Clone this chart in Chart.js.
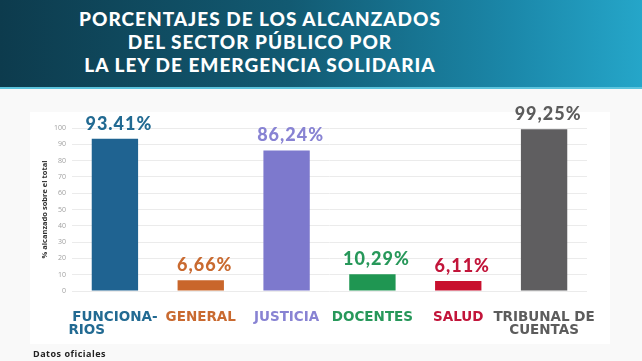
<!DOCTYPE html>
<html>
<head>
<meta charset="utf-8">
<script src="https://cdn.jsdelivr.net/npm/chart.js@4/dist/chart.umd.min.js"></script>
<style>
  html, body { margin: 0; padding: 0; }
  body { width: 642px; height: 361px; position: relative; overflow: hidden; background: #f9f9f9; font-family: Lato, "Open Sans", sans-serif; }
  .header {
    position: absolute; left: 0; top: 0; width: 642px; height: 87px;
    background: linear-gradient(90deg, #0d3b4d 0%, #125a72 45%, #1b88aa 80%, #25a6c9 100%);
    border-bottom: 2px solid #5cc4dd;
  }
  .header h1 {
    margin: 0; padding-top: 7px; width: 520px; text-align: center;
    color: #fff; font-family: Lato, sans-serif; font-weight: 900; font-size: 19px;
    line-height: 23px; letter-spacing: 1px;
  }
  .panel { position: absolute; left: 30px; top: 112px; width: 580px; height: 232px; background: #fff; }
  .wrap { position: absolute; left: 0; top: 88px; width: 642px; height: 273px; }
  .source { position: absolute; left: 33px; top: 347px; font: bold 9px "Open Sans", sans-serif; color: #222; letter-spacing: 0.5px; }
</style>
</head>
<body>
<div class="header"><h1>PORCENTAJES DE LOS ALCANZADOS<br>DEL SECTOR PÚBLICO POR<br>LA LEY DE EMERGENCIA SOLIDARIA</h1></div>
<div class="panel"></div>
<div class="wrap"><canvas id="chart"></canvas></div>
<div class="source">Datos oficiales</div>
<script>
// data
const categories = [['FUNCIONA-', 'RIOS            '], 'GENERAL', 'JUSTICIA', 'DOCENTES', 'SALUD', ['TRIBUNAL DE', 'CUENTAS']];
const values = [93.41, 6.66, 86.24, 10.29, 6.11, 99.25];
const valueLabels = ['93.41%', '6,66%', '86,24%', '10,29%', '6,11%', '99,25%'];
const barColors = ['#1f6391', '#c9662b', '#7d79cd', '#1f9652', '#c8102e', '#5f5e60'];
const labelColors = ['#226a92', '#c96a30', '#8883d3', '#27985a', '#c2153a', '#5c5c5c'];
const yTicks = [0, 10, 20, 30, 40, 50, 60, 70, 80, 90, 100];

const valueLabelPlugin = {
  id: 'valueLabels',
  afterDatasetsDraw(chart) {
    const ctx = chart.ctx;
    const meta = chart.getDatasetMeta(0);
    ctx.save();
    ctx.font = '900 18px Lato, sans-serif';
    ctx.letterSpacing = '1px';
    ctx.textAlign = 'center';
    ctx.textBaseline = 'alphabetic';
    meta.data.forEach((bar, i) => {
      ctx.fillStyle = labelColors[i];
      ctx.fillText(valueLabels[i], bar.x + 4, bar.y - 9);
    });
    ctx.restore();
  }
};

new Chart(document.getElementById('chart'), {
  type: 'bar',
  data: {
    labels: categories,
    datasets: [{
      data: values,
      backgroundColor: barColors,
      borderWidth: 0,
      categoryPercentage: 1,
      barPercentage: 0.54
    }]
  },
  options: {
    responsive: true,
    maintainAspectRatio: false,
    animation: false,
    layout: { padding: { left: 30, right: 55, top: 40, bottom: 0 } },
    plugins: { legend: { display: false }, tooltip: { enabled: false } },
    scales: {
      x: {
        grid: { display: false },
        border: { display: false },
        ticks: {
          padding: 12,
          maxRotation: 0,
          autoSkip: false,
          font: { family: 'DejaVu Sans', weight: 'bold', size: 13.5, lineHeight: 0.95 },
          color: (c) => labelColors[c.index]
        },
        afterFit: (axis) => { axis.height = 70; }
      },
      y: {
        min: 0,
        max: 100,
        afterBuildTicks: (axis) => { axis.ticks = yTicks.map(v => ({ value: v })); },
        grid: { color: '#ebebeb', drawTicks: false },
        border: { display: false },
        ticks: {
          padding: 6,
          font: { family: 'Open Sans', size: 7 },
          color: '#a0a0a0'
        },
        title: {
          display: true,
          text: '% alcanzado sobre el total',
          font: { family: 'Open Sans', weight: 'bold', size: 7.5, lineHeight: 1.2 },
          color: '#333',
          padding: { top: 10, bottom: 0 }
        },
        afterFit: (axis) => { axis.width = 42; }
      }
    }
  },
  plugins: [valueLabelPlugin]
});
</script>
</body>
</html>
